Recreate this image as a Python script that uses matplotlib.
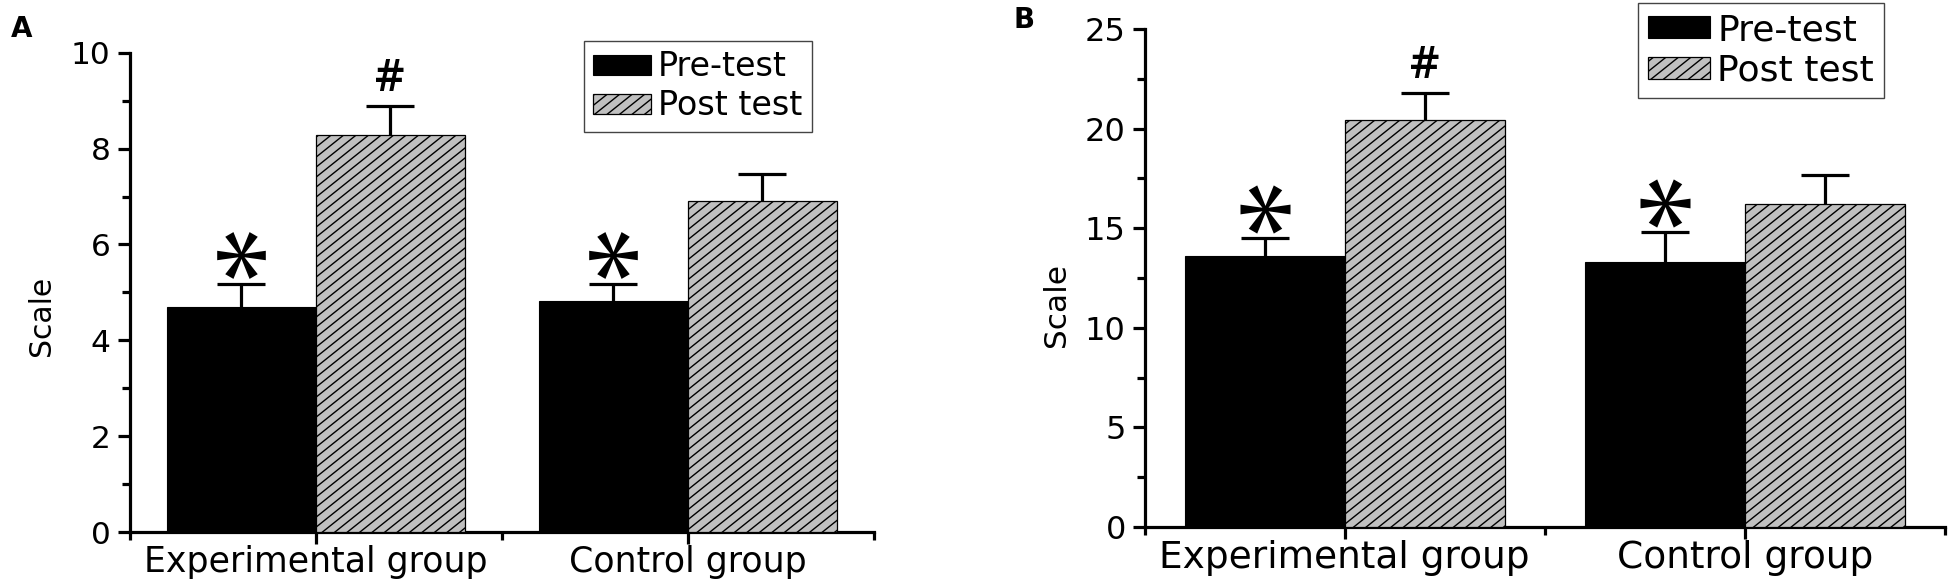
import numpy as np
import matplotlib
matplotlib.use("Agg")
import matplotlib.pyplot as plt
import matplotlib.hatch as mhatch
from matplotlib.path import Path
from matplotlib.ticker import MultipleLocator, FixedLocator
from matplotlib.transforms import offset_copy

# ---------------- data ----------------
categories = ["Experimental group", "Control group"]
series_names = ["Pre-test", "Post test"]

pre_A = [4.70, 4.82]
pre_A_err = [0.48, 0.35]
post_A = [8.28, 6.91]
post_A_err = [0.60, 0.57]

pre_B = [13.58, 13.30]
pre_B_err = [0.93, 1.49]
post_B = [20.45, 16.23]
post_B_err = [1.34, 1.46]

pre_marks = ["*", "*"]      # significance mark above pre-test bars
post_marks = ["#", ""]      # significance mark above post-test bars

# ---------------- shallow diagonal hatch (about 39 degrees) ----------------
class ShallowNorthEastHatch(mhatch.HatchPatternBase):
    def __init__(self, hatch, density):
        on = (hatch.count('/') + hatch.count('x') + hatch.count('X')) > 0
        self.offsets = np.arange(-0.8, 1.0001, 0.1) if on else np.array([])
        self.num_lines = len(self.offsets)
        self.num_vertices = self.num_lines * 2

    def set_vertices_and_codes(self, vertices, codes):
        x0, x1 = -0.05, 1.05
        vertices[0::2, 0] = x0
        vertices[0::2, 1] = self.offsets + 0.8 * x0
        vertices[1::2, 0] = x1
        vertices[1::2, 1] = self.offsets + 0.8 * x1
        codes[0::2] = Path.MOVETO
        codes[1::2] = Path.LINETO

mhatch._hatch_types = [ShallowNorthEastHatch if t is mhatch.NorthEastHatch else t
                       for t in mhatch._hatch_types]
plt.rcParams['hatch.linewidth'] = 1.0
plt.rcParams['font.family'] = ['DejaVu Sans']

# ---------------- asterisk marker (6 tapered arms) ----------------
def asterisk_path():
    verts = []
    delta = np.deg2rad(11)
    r_in = 0.14
    for k in range(6):
        th = np.deg2rad(60 * k)
        verts.append((np.cos(th - delta), np.sin(th - delta)))
        verts.append((np.cos(th + delta), np.sin(th + delta)))
        ti = th + np.deg2rad(30)
        verts.append((r_in * np.cos(ti), r_in * np.sin(ti)))
    verts.append(verts[0])
    codes = [Path.MOVETO] + [Path.LINETO] * (len(verts) - 2) + [Path.CLOSEPOLY]
    return Path(verts, codes)

AST = asterisk_path()

W, H = 1950, 583
fig = plt.figure(figsize=(W / 100, H / 100), dpi=100)

GRAY = '#c0c0c0'


def panel(rect, pre, pre_err, post, post_err, ymax, ymaj, ymin_step,
          tick_fs, xlab_fs, ylab_fs, ylab_pos, leg_fs, leg_anchor, handle_len,
          handle_h, ast_size, hash_fs):
    ax = fig.add_axes(rect)
    centers = np.array([1.0, 3.0])
    bw = 0.8
    b1 = ax.bar(centers - bw / 2, pre, width=bw, color='black', edgecolor='black',
                linewidth=0.8, zorder=3, label=series_names[0])
    b2 = ax.bar(centers + bw / 2, post, width=bw, color=GRAY, edgecolor='black',
                linewidth=0.9, hatch='/', zorder=3, label=series_names[1])
    # upward error bars (lower half hidden behind bars)
    ax.errorbar(centers - bw / 2, pre, yerr=pre_err, fmt='none', ecolor='black',
                elinewidth=2.3, capsize=17, capthick=2.3, zorder=2)
    ax.errorbar(centers + bw / 2, post, yerr=post_err, fmt='none', ecolor='black',
                elinewidth=2.3, capsize=17, capthick=2.3, zorder=2)

    # significance marks
    tr_ast = offset_copy(ax.transData, fig=fig, x=0, y=21, units='points')
    for xc, v, e, m in zip(centers - bw / 2, pre, pre_err, pre_marks):
        if m == "*":
            ax.plot([xc], [v + e], marker=AST, markersize=ast_size, color='black',
                    markeredgewidth=0, linestyle='none', transform=tr_ast,
                    zorder=5, clip_on=False)
    for xc, v, e, m in zip(centers + bw / 2, post, post_err, post_marks):
        if m:
            ax.annotate(m, xy=(xc, v + e), xytext=(0, 3), textcoords='offset points',
                        ha='center', va='bottom', fontsize=hash_fs,
                        fontweight='semibold',
                        family=['Open Sans', 'DejaVu Sans'], zorder=5)

    ax.set_xlim(0, 4)
    ax.set_ylim(0, ymax)
    ax.xaxis.set_major_locator(FixedLocator(list(centers)))
    ax.set_xticklabels(categories, fontsize=xlab_fs)
    ax.xaxis.set_minor_locator(FixedLocator([0, 2, 4]))
    ax.yaxis.set_major_locator(MultipleLocator(ymaj))
    ax.yaxis.set_minor_locator(MultipleLocator(ymin_step))
    ax.tick_params(axis='y', which='major', labelsize=tick_fs, length=8.5, width=2.3,
                   direction='out', pad=5)
    ax.tick_params(axis='y', which='minor', length=5.5, width=2.3, direction='out')
    ax.tick_params(axis='x', which='major', length=8.5, width=2.3, direction='out', pad=1)
    ax.tick_params(axis='x', which='minor', length=5.5, width=2.3, direction='out')
    for s in ['top', 'right']:
        ax.spines[s].set_visible(False)
    for s in ['left', 'bottom']:
        ax.spines[s].set_linewidth(2.3)
    ax.set_ylabel('Scale', fontsize=ylab_fs)
    ax.yaxis.set_label_coords(*ylab_pos)
    ax.patch.set_alpha(0)

    leg = ax.legend(handles=[b1, b2], loc='upper left', bbox_to_anchor=leg_anchor,
                    bbox_transform=fig.transFigure, borderaxespad=0,
                    fontsize=leg_fs, frameon=True, fancybox=False,
                    edgecolor='#444444', framealpha=1, handlelength=handle_len,
                    handleheight=handle_h, handletextpad=0.2, labelspacing=0.18,
                    borderpad=0.28)
    leg.get_frame().set_linewidth(1.0)
    return ax


axA = panel([129.5 / W, 1 - 532 / H, (874 - 129.5) / W, (532 - 52.8) / H],
            pre_A, pre_A_err, post_A, post_A_err, 10, 2, 1,
            22.5, 25, 21.5, (-0.099, 0.45), 24, (584 / W, 1 - 41 / H), 1.74, 0.55, 35, 33)
axB = panel([1144.5 / W, 1 - 527 / H, (1945 - 1144.5) / W, (527 - 29) / H],
            pre_B, pre_B_err, post_B, post_B_err, 25, 5, 2.5,
            23, 27, 22.5, (-0.092, 0.446), 26, (1638 / W, 1 - 3 / H), 1.71, 0.55, 36, 33)

fig.text(11 / W, 1 - 37 / H, 'A', fontsize=20, fontweight='bold', va='baseline', ha='left')
fig.text(1013 / W, 1 - 28 / H, 'B', fontsize=20, fontweight='bold', va='baseline', ha='left')

fig.savefig('out.png', dpi=100)
